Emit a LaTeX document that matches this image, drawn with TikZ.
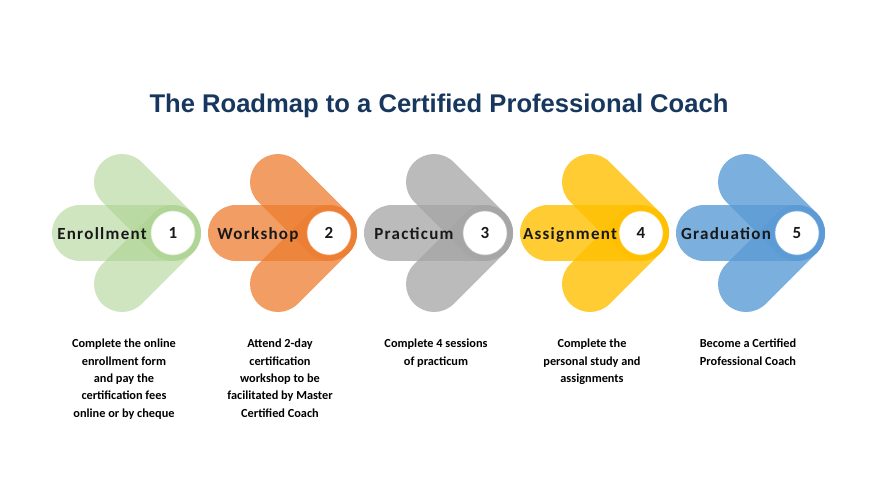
\documentclass[tikz,border=0pt]{standalone}
\usepackage{fontspec}
\setmainfont{Carlito}
\newfontfamily\titlefont{Liberation Sans}
\newfontfamily\labelfont[LetterSpace=7.5]{Carlito}
\definecolor{titleblue}{HTML}{17375E}
\definecolor{cgreen}{HTML}{A9D18E}
\definecolor{corange}{HTML}{ED7D31}
\definecolor{cgray}{HTML}{A5A5A5}
\definecolor{cyellow}{HTML}{FFC000}
\definecolor{cblue}{HTML}{5B9BD5}
\begin{document}
\begin{tikzpicture}[x=1pt,y=-1pt,
  bar/.style={line width=56pt, line cap=round},
  lbl/.style={font=\labelfont\bfseries\fontsize{17}{20}\selectfont, text=black!90, inner sep=0pt, anchor=base},
  num/.style={circle, fill=white, minimum size=45pt, inner sep=0pt, line width=1.5pt,
              font=\labelfont\bfseries\fontsize{17}{20}\selectfont, text=black!90},
  desc/.style={anchor=north, align=center, inner sep=0pt, text=black,
               font=\bfseries\fontsize{12.3}{17.3}\selectfont}]
\useasboundingbox[fill=white] (0,0) rectangle (881,493);
\node[font=\titlefont\bfseries\fontsize{25.6}{30}\selectfont, text=titleblue] (title) at (439,106)
  {The Roadmap to a Certified Professional Coach};

\foreach \c/\col/\op/\name/\n in {173/cgreen/0.55/Enrollment/1,
                                  329/corange/0.75/Workshop/2,
                                  485/cgray/0.75/Practicum/3,
                                  641/cyellow/0.8/Assignment/4,
                                  797/cblue/0.8/Graduation/5}
{
  \coordinate (tip\n) at (\c,233);
  \coordinate (hl\n) at (\c-93,233);
  \coordinate (ul\n) at (\c-51,182);
  \coordinate (dl\n) at (\c-51,284);
  \draw[bar, draw=\col, draw opacity=\op] (hl\n) -- (tip\n);
  \draw[bar, draw=\col, draw opacity=\op] (ul\n) -- (tip\n);
  \draw[bar, draw=\col, draw opacity=\op] (dl\n) -- (tip\n);
  \node[num, draw=\col, draw opacity=\op] (n\n) at (tip\n) {\n};
  \node[lbl] (l\n) at (\c-71,239) {\name};
}

\node[desc] (d1) at (124,339) {Complete the online\\enrollment form\\and pay the\\certification fees\\online or by cheque};
\node[desc] (d2) at (280,339) {Attend 2-day\\certification\\workshop to be\\facilitated by Master\\Certified Coach};
\node[desc] (d3) at (436,339) {Complete 4 sessions\\of practicum};
\node[desc] (d4) at (592,339) {Complete the\\personal study and\\assignments};
\node[desc] (d5) at (748,339) {Become a Certified\\Professional Coach};
\end{tikzpicture}
\end{document}
